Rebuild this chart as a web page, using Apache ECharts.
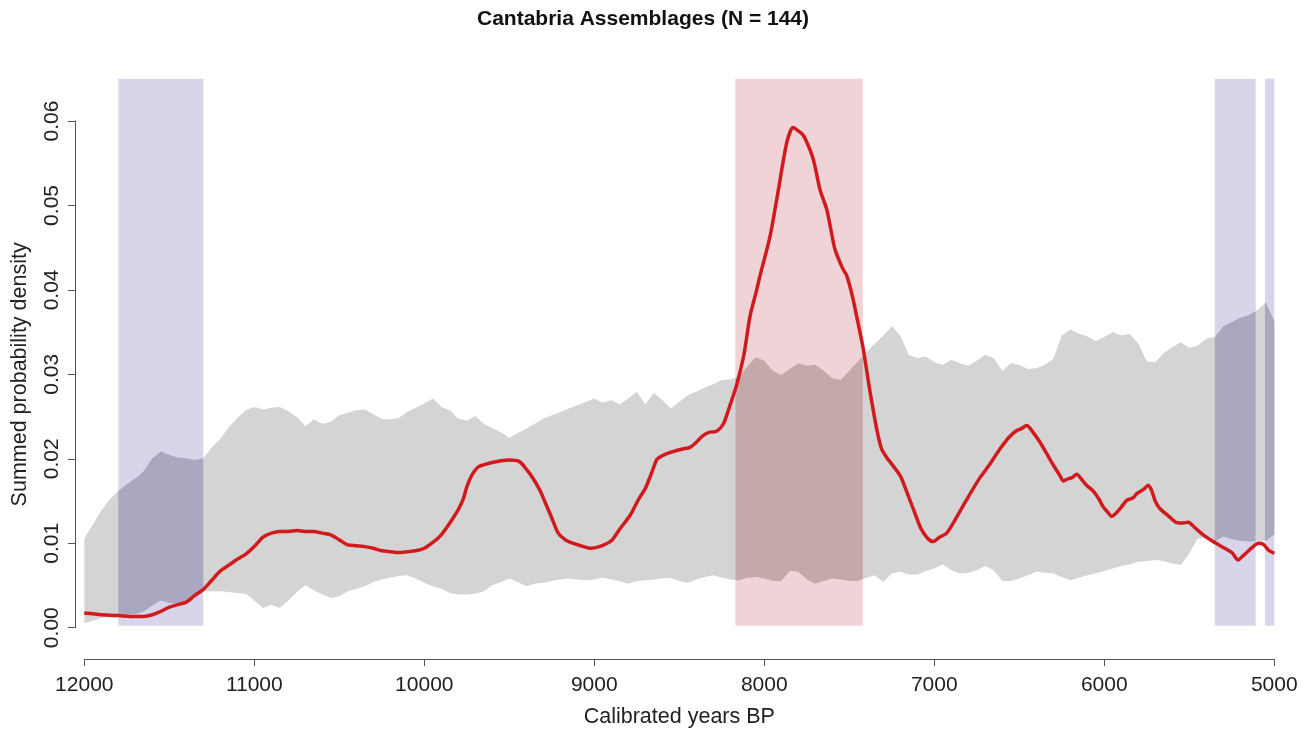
<!DOCTYPE html>
<html>
<head>
<meta charset="utf-8">
<title>Cantabria Assemblages</title>
<script src="https://cdn.jsdelivr.net/npm/echarts@6/dist/echarts.min.js"></script>
<style>
html, body { margin: 0; padding: 0; background: #fff; }
#main { width: 1312px; height: 733px; }
</style>
</head>
<body>
<div id="main"></div>
<script>
// envelope sampled every 50 years, 12000 -> 5000 BP
var envUpper = [
  0.0104,0.0120,0.0137,0.0150,0.0160,0.0168,0.0175,0.0184,0.0199,0.0207,
  0.0203,0.0200,0.0199,0.0197,0.0199,0.0212,0.0222,0.0236,0.0247,0.0256,
  0.0260,0.0257,0.0259,0.0260,0.0255,0.0248,0.0237,0.0245,0.0240,0.0242,
  0.0250,0.0253,0.0256,0.0257,0.0251,0.0246,0.0245,0.0247,0.0254,0.0259,
  0.0264,0.0270,0.0260,0.0256,0.0246,0.0244,0.0249,0.0240,0.0235,0.0230,
  0.0223,0.0229,0.0234,0.0240,0.0246,0.0250,0.0254,0.0258,0.0262,0.0266,
  0.0270,0.0265,0.0268,0.0263,0.0270,0.0278,0.0263,0.0277,0.0268,0.0258,
  0.0266,0.0274,0.0278,0.0283,0.0287,0.0292,0.0293,0.0296,0.0308,0.0319,
  0.0315,0.0303,0.0298,0.0305,0.0312,0.0309,0.0310,0.0303,0.0294,0.0292,
  0.0303,0.0314,0.0325,0.0335,0.0345,0.0356,0.0345,0.0322,0.0318,0.0320,
  0.0313,0.0310,0.0316,0.0312,0.0309,0.0315,0.0322,0.0318,0.0303,0.0312,
  0.0310,0.0305,0.0306,0.0310,0.0317,0.0345,0.0352,0.0347,0.0344,0.0338,
  0.0343,0.0349,0.0345,0.0347,0.0335,0.0314,0.0313,0.0324,0.0331,0.0337,
  0.0330,0.0333,0.0341,0.0343,0.0356,0.0361,0.0366,0.0369,0.0375,0.0384,
  0.0362
];
var envLower = [
  0.0003,0.0006,0.0009,0.0011,0.0012,0.0013,0.0014,0.0017,0.0024,0.0030,
  0.0027,0.0026,0.0030,0.0036,0.0041,0.0041,0.0041,0.0040,0.0039,0.0038,
  0.0030,0.0021,0.0025,0.0021,0.0030,0.0040,0.0048,0.0042,0.0037,0.0033,
  0.0035,0.0041,0.0044,0.0047,0.0052,0.0055,0.0057,0.0059,0.0060,0.0056,
  0.0051,0.0047,0.0044,0.0039,0.0037,0.0037,0.0038,0.0041,0.0048,0.0052,
  0.0056,0.0052,0.0047,0.0050,0.0051,0.0053,0.0055,0.0056,0.0055,0.0054,
  0.0055,0.0057,0.0055,0.0053,0.0050,0.0053,0.0054,0.0055,0.0056,0.0057,
  0.0053,0.0051,0.0055,0.0058,0.0060,0.0057,0.0055,0.0054,0.0057,0.0058,
  0.0056,0.0053,0.0053,0.0065,0.0064,0.0055,0.0050,0.0053,0.0056,0.0055,
  0.0053,0.0053,0.0057,0.0060,0.0052,0.0062,0.0064,0.0061,0.0061,0.0065,
  0.0068,0.0073,0.0066,0.0062,0.0063,0.0066,0.0071,0.0066,0.0053,0.0053,
  0.0056,0.0060,0.0064,0.0063,0.0062,0.0058,0.0054,0.0057,0.0060,0.0062,
  0.0065,0.0068,0.0071,0.0073,0.0076,0.0077,0.0078,0.0077,0.0074,0.0072,
  0.0086,0.0104,0.0104,0.0100,0.0106,0.0103,0.0101,0.0100,0.0100,0.0101,
  0.0108
];

// summed probability density (red curve)
var spdYears = [
  12000,11900,11800,11700,11650,11600,11550,11500,11450,11400,11350,11300,11250,11200,11150,11100,11050,11000,10950,10900,
  10850,10800,10750,10700,10650,10600,10550,10500,10450,10400,10350,10300,10250,10200,10150,10100,10050,10000,9950,9900,
  9850,9800,9770,9750,9720,9680,9620,9550,9500,9440,9400,9360,9320,9290,9250,9212,9170,9140,9080,9025,
  8970,8900,8850,8790,8740,8700,8660,8630,8580,8535,8480,8437,8400,8360,8320,8280,8240,8210,8180,8160,
  8120,8084,8050,8025,7966,7917,7868,7830,7800,7771,7740,7710,7672,7633,7600,7584,7540,7515,7480,7457,
  7418,7378,7339,7310,7280,7250,7200,7173,7124,7080,7040,7006,6970,6927,6880,6829,6780,6731,6680,6614,
  6560,6515,6490,6456,6420,6378,6340,6300,6260,6241,6220,6190,6162,6130,6100,6065,6030,6006,5980,5957,
  5930,5900,5868,5830,5809,5770,5741,5720,5700,5672,5620,5580,5540,5506,5470,5418,5360,5300,5250,5212,
  5190,5162,5130,5094,5065,5035,5000
];
var spdValues = [
  0.0015,0.0013,0.0012,0.0011,0.0011,0.0013,0.0017,0.0022,0.0025,0.0028,0.0036,0.0043,0.0054,0.0065,0.0072,0.0079,0.0085,0.0094,0.0105,0.0110,
  0.0112,0.0112,0.0113,0.0112,0.0112,0.0110,0.0108,0.0102,0.0096,0.0095,0.0094,0.0092,0.0089,0.0088,0.0087,0.0088,0.0089,0.0092,0.0099,0.0108,
  0.0122,0.0138,0.0151,0.0165,0.0179,0.0189,0.0193,0.0196,0.0197,0.0195,0.0186,0.0175,0.0161,0.0147,0.0128,0.0110,0.0102,0.0099,0.0095,0.0092,
  0.0094,0.0101,0.0115,0.0131,0.0150,0.0163,0.0183,0.0198,0.0204,0.0207,0.0210,0.0212,0.0218,0.0226,0.0230,0.0231,0.0240,0.0257,0.0275,0.0288,
  0.0322,0.0368,0.0395,0.0416,0.0463,0.0518,0.0574,0.0592,0.0588,0.0583,0.0570,0.0553,0.0518,0.0495,0.0462,0.0447,0.0425,0.0416,0.0390,0.0368,
  0.0329,0.0278,0.0234,0.0210,0.0200,0.0192,0.0178,0.0165,0.0139,0.0116,0.0104,0.0100,0.0105,0.0110,0.0125,0.0143,0.0160,0.0176,0.0190,0.0210,
  0.0224,0.0232,0.0234,0.0238,0.0230,0.0218,0.0205,0.0191,0.0178,0.0172,0.0174,0.0176,0.0180,0.0173,0.0166,0.0160,0.0150,0.0141,0.0135,0.0130,
  0.0134,0.0141,0.0149,0.0152,0.0157,0.0162,0.0167,0.0160,0.0148,0.0139,0.0130,0.0123,0.0122,0.0123,0.0117,0.0108,0.0100,0.0093,0.0087,0.0078,
  0.0082,0.0087,0.0093,0.0098,0.0097,0.0090,0.0086
];

// highlighted periods (years BP)
var bandStart = [11800, 8170, 5350, 5055];
var bandEnd   = [11300, 7420, 5110, 5000];
var bandType  = [0, 1, 0, 0];   // 0 = purple, 1 = red

var FONT = '"Liberation Sans", Arial, Helvetica, sans-serif';
var envColor = '#d5d4d5';
var bandColors = ['#d8d5ea', '#f0d3d6'];
var bandOverColors = ['#aaa8c0', '#c4a9ab'];   // band seen through the envelope

var envYears = [];
for (var y = 12000; y >= 5000; y -= 50) envYears.push(y);

function envAt(arr, yr) {
    var f = (envYears[0] - yr) / 50;
    var i0 = Math.min(Math.floor(f), arr.length - 2);
    var t = f - i0;
    return arr[i0] * (1 - t) + arr[i0 + 1] * t;
}

// envelope polygon between two years, through the axis scales
function envPolygon(api, from, to) {
    var top = [], bot = [];
    top.push(api.coord([from, envAt(envUpper, from)]));
    bot.push(api.coord([from, envAt(envLower, from)]));
    for (var i = 0; i < envYears.length; i++) {
        if (envYears[i] < from && envYears[i] > to) {
            top.push(api.coord([envYears[i], envUpper[i]]));
            bot.push(api.coord([envYears[i], envLower[i]]));
        }
    }
    top.push(api.coord([to, envAt(envUpper, to)]));
    bot.push(api.coord([to, envAt(envLower, to)]));
    return top.concat(bot.reverse());
}

var spdData = [], bandData = [];
for (var i = 0; i < spdYears.length; i++) {
    spdData.push([spdYears[i], spdValues[i]]);
}
for (var i = 0; i < bandStart.length; i++) {
    bandData.push([bandStart[i], bandEnd[i], 0, bandType[i]]);
}

var myChart = echarts.init(document.getElementById('main'));
myChart.setOption({
    backgroundColor: '#fff',
    animation: false,
    title: {
        text: 'Cantabria Assemblages (N = 144)',
        left: 638,
        top: 4,
        textAlign: 'center',
        textStyle: { fontFamily: FONT, fontSize: 21, fontWeight: 'bold', color: '#111' }
    },
    grid: [
        { left: 84.3, right: 37.7, top: 78.8, bottom: 105.3 },
        { left: 75, top: 121, bottom: 105.3, width: 10 }
    ],
    xAxis: [{
        gridIndex: 0,
        type: 'value',
        min: 5000,
        max: 12000,
        interval: 1000,
        inverse: true,
        offset: 33.3,
        axisLine: { onZero: false, lineStyle: { color: '#555', width: 1 } },
        axisTick: { length: 7, lineStyle: { color: '#555' } },
        axisLabel: {
            fontFamily: FONT, fontSize: 21, color: '#222', margin: 16,
            formatter: function (v) { return String(v); }
        },
        splitLine: { show: false },
        name: 'Calibrated years BP',
        nameLocation: 'middle',
        nameGap: 47,
        nameTextStyle: { fontFamily: FONT, fontSize: 21.5, color: '#222' }
    }, {
        gridIndex: 1, type: 'value', min: 0, max: 1, show: false
    }],
    yAxis: [{
        gridIndex: 0, type: 'value', min: 0, max: 0.065, show: false
    }, {
        gridIndex: 1,
        type: 'value',
        min: 0,
        max: 0.06,
        interval: 0.01,
        axisLine: { show: true, onZero: false, lineStyle: { color: '#555', width: 1 } },
        axisTick: { show: true, length: 7, lineStyle: { color: '#555' } },
        axisLabel: {
            rotate: 90, fontFamily: FONT, fontSize: 21, color: '#222', margin: 12,
            formatter: function (v) { return v.toFixed(2); }
        },
        splitLine: { show: false },
        name: 'Summed probability density',
        nameLocation: 'middle',
        nameGap: 44,
        nameTextStyle: { fontFamily: FONT, fontSize: 21.5, color: '#222' }
    }],
    series: [{
        name: 'envelope',
        type: 'custom',
        xAxisIndex: 0, yAxisIndex: 0,
        data: [[envYears[0], envYears[envYears.length - 1], 0]],
        encode: { x: [0, 1], y: 2 },
        z: 1,
        renderItem: function (params, api) {
            return {
                type: 'polygon',
                shape: { points: envPolygon(api, api.value(0), api.value(1)) },
                style: { fill: envColor }
            };
        }
    }, {
        name: 'bands',
        type: 'custom',
        xAxisIndex: 0, yAxisIndex: 0,
        data: bandData,
        encode: { x: [0, 1], y: 2 },
        z: 2,
        renderItem: function (params, api) {
            var a = api.coord([api.value(0), 0]);
            var b = api.coord([api.value(1), 0]);
            var cs = params.coordSys;
            var k = api.value(3);
            return {
                type: 'group',
                children: [{
                    type: 'rect',
                    shape: { x: Math.min(a[0], b[0]), y: cs.y, width: Math.abs(b[0] - a[0]), height: a[1] - cs.y },
                    style: { fill: bandColors[k] }
                }, {
                    type: 'polygon',
                    shape: { points: envPolygon(api, api.value(0), api.value(1)) },
                    style: { fill: bandOverColors[k] }
                }]
            };
        }
    }, {
        name: 'SPD',
        type: 'line',
        xAxisIndex: 0, yAxisIndex: 0,
        data: spdData,
        symbol: 'none',
        smooth: 0.25,
        lineStyle: { color: '#d11a1d', width: 3.5 },
        z: 3
    }]
});
</script>
</body>
</html>
